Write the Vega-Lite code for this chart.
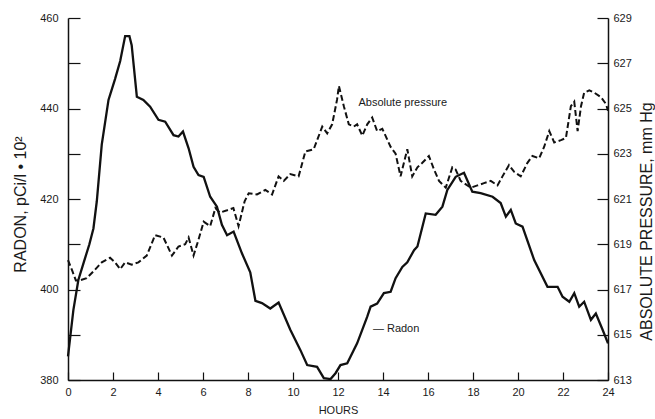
{
  "$schema": "https://vega.github.io/schema/vega-lite/v6.json",
  "width": 540,
  "height": 362,
  "autosize": {"type": "none"},
  "padding": {"left": 68, "top": 18, "right": 47, "bottom": 39},
  "background": "white",
  "config": {
    "view": {"stroke": null},
    "axis": {
      "grid": false,
      "domainColor": "#111",
      "domainWidth": 1.5,
      "tickColor": "#111",
      "tickWidth": 1.2,
      "tickSize": -8,
      "labelFont": "Liberation Sans",
      "labelFontSize": 11,
      "labelColor": "#1a1a1a",
      "titleFont": "Liberation Sans",
      "titleFontWeight": "normal",
      "titleColor": "#1a1a1a"
    }
  },
  "datasets": {
    "radon": [
      {"h": 0, "v": 385.2}, {"h": 0.24, "v": 395.5}, {"h": 0.46, "v": 402.1}, {"h": 0.7, "v": 406}, {"h": 0.95, "v": 410},
      {"h": 1.13, "v": 413.5}, {"h": 1.28, "v": 419.5}, {"h": 1.5, "v": 432}, {"h": 1.8, "v": 441.9}, {"h": 2.09, "v": 446.5},
      {"h": 2.32, "v": 450.5}, {"h": 2.54, "v": 456}, {"h": 2.73, "v": 456}, {"h": 2.83, "v": 454}, {"h": 3.06, "v": 442.6},
      {"h": 3.35, "v": 441.9}, {"h": 3.65, "v": 440.4}, {"h": 4.02, "v": 437.5}, {"h": 4.32, "v": 437.1}, {"h": 4.69, "v": 434.1},
      {"h": 4.91, "v": 433.8}, {"h": 5.11, "v": 434.9}, {"h": 5.36, "v": 431.2}, {"h": 5.58, "v": 427.1}, {"h": 5.8, "v": 425.3},
      {"h": 6.03, "v": 424.9}, {"h": 6.32, "v": 420.5}, {"h": 6.62, "v": 418.3}, {"h": 6.84, "v": 414.3}, {"h": 7.07, "v": 412.0},
      {"h": 7.36, "v": 412.8}, {"h": 7.73, "v": 408.0}, {"h": 8.1, "v": 403.8}, {"h": 8.33, "v": 397.5}, {"h": 8.62, "v": 397.0},
      {"h": 8.99, "v": 395.8}, {"h": 9.36, "v": 397.1}, {"h": 9.88, "v": 391.1}, {"h": 10.33, "v": 386.6}, {"h": 10.63, "v": 383.3},
      {"h": 11.07, "v": 382.9}, {"h": 11.37, "v": 380.4}, {"h": 11.67, "v": 380.2}, {"h": 11.89, "v": 381.5}, {"h": 12.11, "v": 383.3},
      {"h": 12.41, "v": 383.7}, {"h": 12.85, "v": 388.1}, {"h": 13.3, "v": 394.0}, {"h": 13.45, "v": 396.2}, {"h": 13.74, "v": 396.9},
      {"h": 14.04, "v": 399.2}, {"h": 14.34, "v": 399.5}, {"h": 14.56, "v": 402.5}, {"h": 14.86, "v": 405.0}, {"h": 15.08, "v": 406.0},
      {"h": 15.38, "v": 408.7}, {"h": 15.53, "v": 409.5}, {"h": 15.9, "v": 416.8}, {"h": 16.34, "v": 416.5}, {"h": 16.64, "v": 418.3},
      {"h": 16.86, "v": 422.0}, {"h": 17.23, "v": 424.9}, {"h": 17.6, "v": 425.8}, {"h": 17.97, "v": 421.6}, {"h": 18.34, "v": 421.3},
      {"h": 18.87, "v": 420.5}, {"h": 19.23, "v": 419.1}, {"h": 19.46, "v": 416.1}, {"h": 19.68, "v": 417.6}, {"h": 19.9, "v": 414.6},
      {"h": 20.2, "v": 413.9}, {"h": 20.72, "v": 406.5}, {"h": 21.31, "v": 400.6}, {"h": 21.76, "v": 400.6}, {"h": 21.98, "v": 398.4},
      {"h": 22.28, "v": 397.3}, {"h": 22.5, "v": 399.2}, {"h": 22.72, "v": 396.2}, {"h": 22.94, "v": 397.3}, {"h": 23.24, "v": 393.3},
      {"h": 23.46, "v": 394.7}, {"h": 23.76, "v": 391.1}, {"h": 24, "v": 388.1}
    ],
    "pressure": [
      {"h": 0, "v": 618.3}, {"h": 0.2, "v": 617.8}, {"h": 0.35, "v": 617.4}, {"h": 0.5, "v": 617.4}, {"h": 0.83, "v": 617.5},
      {"h": 1.13, "v": 617.8}, {"h": 1.5, "v": 618.2}, {"h": 1.87, "v": 618.4}, {"h": 2.09, "v": 618.2}, {"h": 2.32, "v": 617.9},
      {"h": 2.54, "v": 618.2}, {"h": 2.83, "v": 618.1}, {"h": 3.13, "v": 618.2}, {"h": 3.5, "v": 618.5}, {"h": 3.87, "v": 619.4},
      {"h": 4.24, "v": 619.3}, {"h": 4.62, "v": 618.5}, {"h": 4.91, "v": 618.9}, {"h": 5.21, "v": 619.0}, {"h": 5.36, "v": 619.3},
      {"h": 5.58, "v": 618.5}, {"h": 5.8, "v": 619.2}, {"h": 6.03, "v": 620.0}, {"h": 6.32, "v": 619.8}, {"h": 6.55, "v": 620.6},
      {"h": 6.75, "v": 620.4}, {"h": 7.07, "v": 620.5}, {"h": 7.35, "v": 620.6}, {"h": 7.58, "v": 619.8}, {"h": 7.85, "v": 620.9},
      {"h": 8.03, "v": 621.25}, {"h": 8.4, "v": 621.2}, {"h": 8.77, "v": 621.4}, {"h": 9.07, "v": 621.2}, {"h": 9.36, "v": 622.0},
      {"h": 9.59, "v": 621.8}, {"h": 9.88, "v": 622.1}, {"h": 10.25, "v": 622.0}, {"h": 10.55, "v": 623.1}, {"h": 10.92, "v": 623.2},
      {"h": 11.3, "v": 624.2}, {"h": 11.52, "v": 623.9}, {"h": 11.74, "v": 624.3}, {"h": 11.96, "v": 625.4}, {"h": 12.04, "v": 626.0},
      {"h": 12.26, "v": 625.1}, {"h": 12.48, "v": 624.3}, {"h": 12.7, "v": 624.2}, {"h": 12.85, "v": 624.3}, {"h": 13.08, "v": 623.8},
      {"h": 13.3, "v": 624.3}, {"h": 13.52, "v": 624.6}, {"h": 13.74, "v": 624.0}, {"h": 13.97, "v": 624.1}, {"h": 14.11, "v": 623.8},
      {"h": 14.34, "v": 623.3}, {"h": 14.56, "v": 623.0}, {"h": 14.78, "v": 622.0}, {"h": 14.93, "v": 622.6}, {"h": 15.08, "v": 623.2},
      {"h": 15.3, "v": 622.0}, {"h": 15.53, "v": 622.4}, {"h": 15.75, "v": 622.6}, {"h": 16.04, "v": 622.9}, {"h": 16.27, "v": 622.3},
      {"h": 16.49, "v": 621.8}, {"h": 16.79, "v": 621.5}, {"h": 17.08, "v": 622.4}, {"h": 17.23, "v": 622.3}, {"h": 17.45, "v": 621.8},
      {"h": 17.9, "v": 621.5}, {"h": 18.2, "v": 621.6}, {"h": 18.49, "v": 621.7}, {"h": 18.79, "v": 621.8}, {"h": 19.09, "v": 621.6},
      {"h": 19.31, "v": 622.0}, {"h": 19.6, "v": 622.5}, {"h": 19.83, "v": 622.2}, {"h": 20.12, "v": 622.0}, {"h": 20.42, "v": 622.6},
      {"h": 20.64, "v": 622.9}, {"h": 20.94, "v": 622.8}, {"h": 21.16, "v": 623.3}, {"h": 21.39, "v": 624.0}, {"h": 21.61, "v": 623.5},
      {"h": 21.91, "v": 623.6}, {"h": 22.13, "v": 623.7}, {"h": 22.35, "v": 625.1}, {"h": 22.5, "v": 625.3}, {"h": 22.65, "v": 624.0},
      {"h": 22.8, "v": 625.1}, {"h": 22.94, "v": 625.7}, {"h": 23.17, "v": 625.8}, {"h": 23.39, "v": 625.7}, {"h": 23.69, "v": 625.5},
      {"h": 23.91, "v": 625.2}, {"h": 24, "v": 624.9}
    ],
    "radonLabel": [{"h": 13.55, "v": 391.3, "label": "— Radon"}],
    "pressureLabel": [{"h": 12.91, "v": 625.23, "label": "Absolute pressure"}]
  },
  "layer": [
    {
      "encoding": {
        "x": {
          "field": "h", "type": "quantitative",
          "scale": {"domain": [0, 24], "nice": false},
          "axis": {"values": [0, 2, 4, 6, 8, 10, 12, 14, 16, 18, 20, 22, 24], "title": "HOURS", "titleFontSize": 11, "titleY": 24, "titleBaseline": "top", "labelPadding": 14, "labelFlush": false}
        },
        "y": {
          "field": "v", "type": "quantitative",
          "scale": {"domain": [380, 460], "nice": false, "zero": false},
          "axis": {
            "orient": "left",
            "values": [380, 390, 400, 410, 420, 430, 440, 450, 460],
            "labelExpr": "datum.value % 20 === 0 ? datum.label : ''",
            "labelPadding": 22,
            "labelFlush": false,
            "tickSize": -12,
            "title": "RADON, pCi/l • 10²",
            "titleFontSize": 16,
            "titleAngle": 270,
            "titleAlign": "center",
            "titleBaseline": "middle",
            "titleX": -48,
            "titleY": 186
          }
        }
      },
      "layer": [
        {"data": {"name": "radon"}, "mark": {"type": "line", "color": "#111", "strokeWidth": 2.3}},
        {"data": {"name": "radonLabel"}, "mark": {"type": "text", "align": "left", "baseline": "middle", "font": "Liberation Sans", "fontSize": 11, "color": "#1a1a1a"}, "encoding": {"text": {"field": "label"}}}
      ]
    },
    {
      "encoding": {
        "x": {
          "field": "h", "type": "quantitative",
          "scale": {"domain": [0, 24], "nice": false},
          "axis": {"values": [0, 2, 4, 6, 8, 10, 12, 14, 16, 18, 20, 22, 24], "title": "HOURS", "titleFontSize": 11, "titleY": 24, "titleBaseline": "top", "labelPadding": 14, "labelFlush": false}
        },
        "y": {
          "field": "v", "type": "quantitative",
          "scale": {"domain": [613, 629], "nice": false, "zero": false},
          "axis": {
            "orient": "right",
            "values": [613, 615, 617, 619, 621, 623, 625, 627, 629],
            "labelPadding": 16,
            "labelFlush": false,
            "tickSize": -11,
            "title": "ABSOLUTE PRESSURE, mm Hg",
            "titleFontSize": 16,
            "titleAngle": 270,
            "titleAlign": "center",
            "titleBaseline": "middle",
            "titleX": 38,
            "titleY": 203
          }
        }
      },
      "layer": [
        {"data": {"name": "pressure"}, "mark": {"type": "line", "color": "#111", "strokeWidth": 2, "strokeDash": [6, 3]}},
        {"data": {"name": "pressureLabel"}, "mark": {"type": "text", "align": "left", "baseline": "middle", "font": "Liberation Sans", "fontSize": 11, "color": "#1a1a1a"}, "encoding": {"text": {"field": "label"}}}
      ]
    }
  ],
  "resolve": {"scale": {"y": "independent"}}
}
